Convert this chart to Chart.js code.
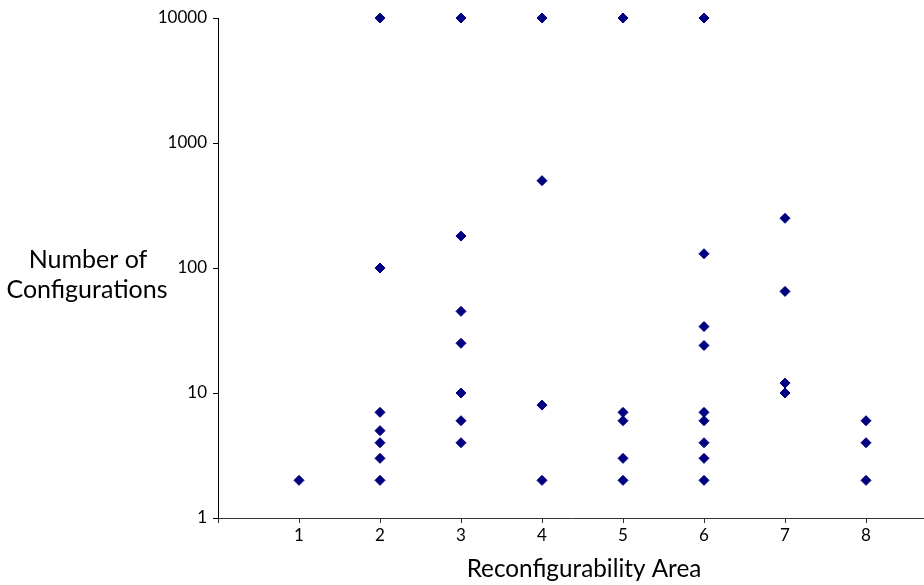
<!DOCTYPE html>
<html>
<head>
<meta charset="utf-8">
<script src="https://cdn.jsdelivr.net/npm/chart.js@4/dist/chart.umd.min.js"></script>
<style>
  html, body { margin: 0; padding: 0; background: #fff; }
  #wrap { position: relative; width: 924px; height: 585px; }
</style>
</head>
<body>
<div id="wrap"><canvas id="chart"></canvas></div>
<script>
// values, one list per reconfigurability area
const area1 = [2];
const area2 = [10000, 100, 7, 5, 4, 3, 2];
const area3 = [10000, 180, 45, 25, 10, 6, 4];
const area4 = [10000, 500, 8, 2];
const area5 = [10000, 7, 6, 3, 2];
const area6 = [10000, 130, 34, 24, 7, 6, 4, 3, 2];
const area7 = [250, 65, 12, 10];
const area8 = [6, 4, 2];

const areas = [area1, area2, area3, area4, area5, area6, area7, area8];
const xTicks = [0, 1, 2, 3, 4, 5, 6, 7, 8];
const yTicks = [1, 10, 100, 1000, 10000];

const xTitle = "Reconfigurability Area";
const yTitleLines = ["Number of", "Configurations"];

const points = [];
areas.forEach((list, i) => {
  for (const v of list) {
    points.push({ x: i + 1, y: v });
  }
});

// both axis titles are drawn here, the y one horizontal on two lines
const titlesPlugin = {
  id: "axisTitles",
  afterDraw(chart) {
    const ctx = chart.ctx;
    const area = chart.chartArea;
    const mid = (area.top + area.bottom) / 2;
    ctx.save();
    ctx.fillStyle = "#000";
    ctx.textAlign = "center";
    ctx.textBaseline = "alphabetic";
    ctx.font = "25px Lato";
    ctx.fillText(yTitleLines[0], 88, mid);
    ctx.fillText(yTitleLines[1], 87, mid + 30);
    ctx.font = "24.3px Lato";
    ctx.fillText(xTitle, 584, area.bottom + 59);
    ctx.restore();
  },
};

new Chart(document.getElementById("chart"), {
  type: "scatter",
  data: {
    datasets: [
      {
        data: points,
        pointStyle: "rectRot",
        pointRadius: 5,
        pointHoverRadius: 5,
        backgroundColor: "#000080",
        borderColor: "#000080",
        borderWidth: 1,
        clip: false,
      },
    ],
  },
  options: {
    responsive: true,
    maintainAspectRatio: false,
    animation: false,
    layout: {
      autoPadding: false,
      padding: { top: 18, right: 0, left: 0, bottom: 0 },
    },
    plugins: {
      legend: { display: false },
      tooltip: { enabled: false },
    },
    scales: {
      x: {
        type: "linear",
        min: 0,
        max: 8.716,
        afterBuildTicks: (scale) => {
          scale.ticks = xTicks.map((v) => ({ value: v }));
        },
        afterFit: (scale) => {
          scale.height = 67;
          scale.paddingLeft = 0;
          scale.paddingRight = 0;
        },
        ticks: {
          color: "#000",
          font: { family: "Lato", size: 17 },
          padding: 2,
          maxRotation: 0,
          callback: (v) => (v === 0 ? "" : String(v)),
        },
        grid: { drawOnChartArea: false, drawTicks: true, tickLength: 5, color: "#333" },
        border: { display: true, color: "#333", width: 1 },
      },
      y: {
        type: "logarithmic",
        min: 1,
        max: 10000,
        afterBuildTicks: (scale) => {
          scale.ticks = yTicks.map((v) => ({ value: v }));
        },
        afterFit: (scale) => {
          scale.width = 218;
        },
        ticks: {
          color: "#000",
          font: { family: "Lato", size: 17 },
          padding: 6,
          callback: (v) => String(v),
        },
        grid: { drawOnChartArea: false, drawTicks: true, tickLength: 5, color: "#000" },
        border: { display: true, color: "#000", width: 1 },
      },
    },
  },
  plugins: [titlesPlugin],
});
</script>
</body>
</html>
